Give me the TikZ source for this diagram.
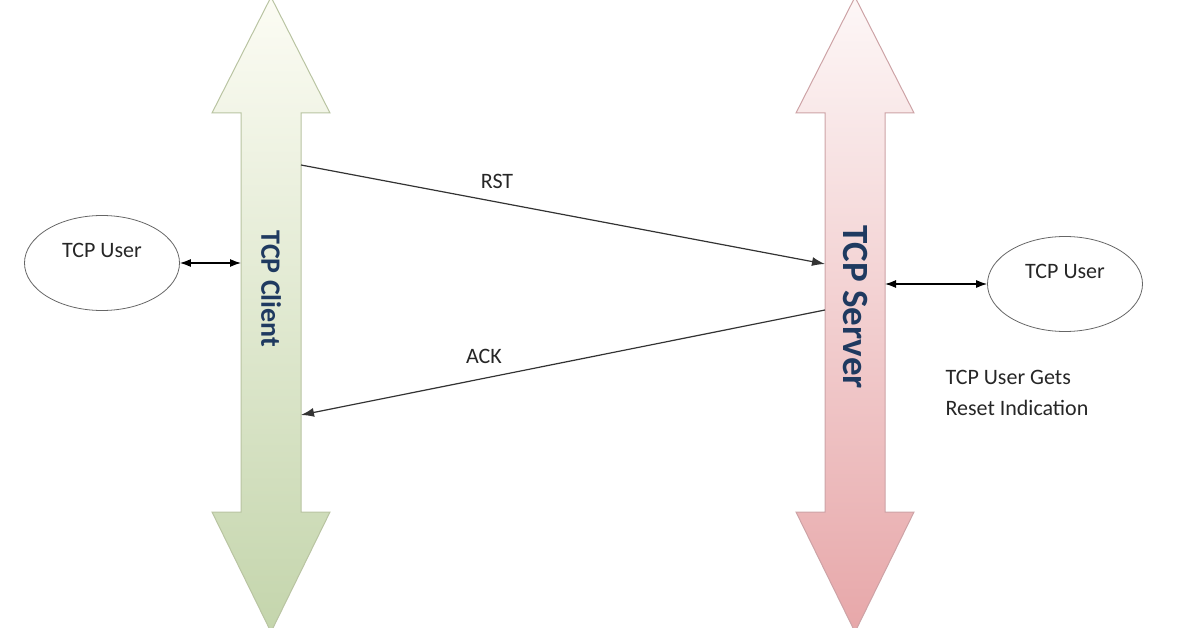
\documentclass[tikz,border=0pt]{standalone}
\usepackage{fontspec}
\setmainfont{Carlito}
\usetikzlibrary{arrows.meta,shapes.geometric}

\definecolor{clientline}{HTML}{B9C4A2}
\definecolor{clienttop}{HTML}{FCFCF4}
\definecolor{clientbot}{HTML}{C4D5AC}
\definecolor{serverline}{HTML}{CDA3A6}
\definecolor{servertop}{HTML}{FDF7F7}
\definecolor{serverbot}{HTML}{E7A7A9}
\definecolor{barlabel}{HTML}{1F3A60}
\definecolor{msgline}{HTML}{333333}

\begin{document}
\begin{tikzpicture}[x=1pt,y=-1pt,
  every node/.style={text=black!85},
  user/.style={draw=black!60,ellipse,minimum width=155pt,minimum height=95pt,line width=0.8pt},
  msg/.style={draw=msgline,line width=1.2pt,-{Latex[length=13pt,width=9pt]}},
  link/.style={draw=black,line width=1.2pt,{Latex[length=11pt,width=8pt]}-{Latex[length=11pt,width=8pt]}},
  small/.style={font=\fontsize{22}{31}\selectfont}
]

\useasboundingbox (0,0) rectangle (1196,628);

% the two big double arrows
\shade[top color=clienttop,bottom color=clientbot,draw=clientline,line width=1pt]
  (271,-3) -- (330,113) -- (301,113) -- (301,512) -- (330,512) -- (271,632)
  -- (212,512) -- (241,512) -- (241,113) -- (212,113) -- cycle;
\shade[top color=servertop,bottom color=serverbot,draw=serverline,line width=1pt]
  (855,-3) -- (914,113) -- (885,113) -- (885,512) -- (914,512) -- (855,632)
  -- (796,512) -- (825,512) -- (825,113) -- (796,113) -- cycle;

\node [rotate=-90,text=barlabel,font=\bfseries\fontsize{28}{30}\selectfont] (client) at (271,289) {TCP Client};
\node [rotate=-90,text=barlabel,font=\bfseries\fontsize{37}{40}\selectfont] (server) at (855,307) {TCP Server};

% points on the bars
\coordinate (client-user) at (241,263);
\coordinate (client-rst) at (301,165);
\coordinate (client-ack) at (301,415);
\coordinate (server-rst) at (825,264);
\coordinate (server-ack) at (825,310);
\coordinate (server-user) at (885,284);

% users
\node [user] (cuser) at (102,263) {};
\node [small] (cuser-text) at ([yshift=13pt]cuser.center) {TCP User};
\node [user] (suser) at (1065,284) {};
\node [small] (suser-text) at ([yshift=13pt]suser.center) {TCP User};

\draw [link] (cuser.east) -- (client-user);
\draw [link] (server-user) -- (suser.west);

% messages
\draw [msg] (client-rst) -- (server-rst);
\draw [msg] (server-ack) -- (client-ack);
\node [small] (rst) at (497,181) {RST};
\node [small] (ack) at (484,356) {ACK};

\node [small,anchor=west,align=left] (note) at (942,393) {TCP User Gets\\Reset Indication};
\end{tikzpicture}
\end{document}
